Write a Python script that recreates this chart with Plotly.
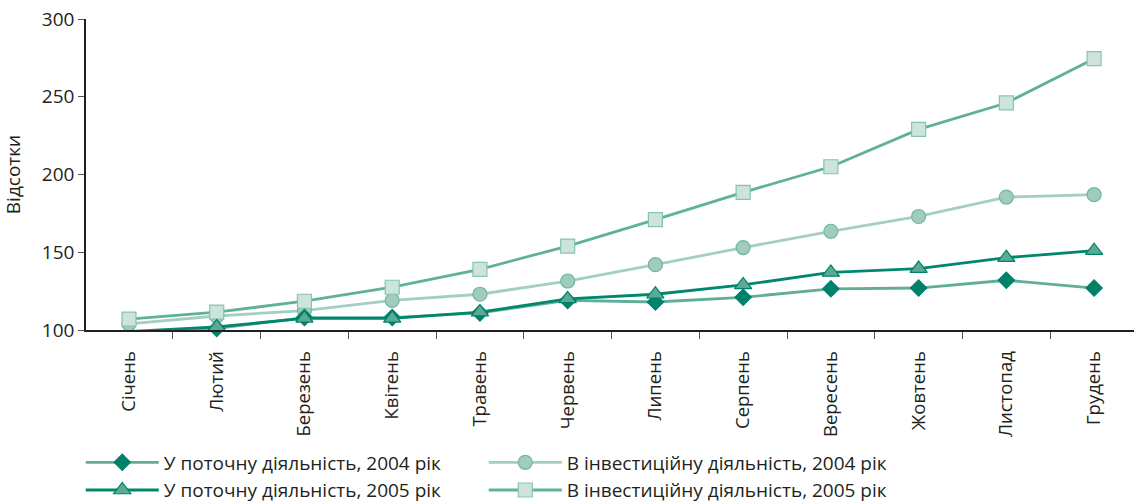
import plotly.graph_objects as go

months = ["Січень", "Лютий", "Березень", "Квітень", "Травень", "Червень",
          "Липень", "Серпень", "Вересень", "Жовтень", "Листопад", "Грудень"]

current_2004 = [98.5, 101, 108, 108, 111, 119, 118, 121, 126.5, 127, 132, 127]
current_2005 = [99, 102, 107.5, 107.5, 111.5, 120, 123, 129, 137, 139.5, 146.5, 151]
invest_2004 = [104, 109, 112.5, 119, 123, 131.5, 142, 153, 163.5, 173, 185.5, 187]
invest_2005 = [107, 111.5, 118.5, 127.5, 139, 154, 171, 188.5, 205, 229, 246, 274.5]

names = ["У поточну діяльність, 2004 рік", "В інвестиційну діяльність, 2004 рік",
         "У поточну діяльність, 2005 рік", "В інвестиційну діяльність, 2005 рік"]

font_family = "Open Sans, Noto Sans, sans-serif"

fig = go.Figure()

# draw order: light ones first, legend order via legendrank
series = [
    (invest_2004, names[1], "#a3cfc2", "circle", 14, "#a0cbbd", "#6db8a3", 2),
    (invest_2005, names[3], "#5fb09c", "square", 14, "#cce4dc", "#86c4b2", 4),
    (current_2004, names[0], "#5fae9a", "diamond", 12.5, "#00826a", "#00826a", 1),
    (current_2005, names[2], "#00876c", "triangle-up", 15, "#5aaa94", "#00826a", 3),
]

for vals, name, lc, sym, sz, fill, edge, rank in series:
    fig.add_trace(go.Scatter(
        x=months, y=vals, name=name, mode="lines+markers",
        line=dict(color=lc, width=2.8),
        marker=dict(symbol=sym, size=sz, color=fill, line=dict(color=edge, width=1.2)),
        legendrank=rank, cliponaxis=False,
    ))

# figure a bit taller than the window so the legend padding has room below
fig.update_layout(
    width=1134, height=530,
    margin=dict(l=86, r=0, t=19, b=200),
    plot_bgcolor="white", paper_bgcolor="white",
    font=dict(family=font_family, size=18, color="#231f20"),
    showlegend=True,
    legend=dict(orientation="h", x=-0.005, y=-0.577, xanchor="left", yanchor="bottom",
                entrywidth=315, entrywidthmode="pixels", traceorder="normal",
                font=dict(size=19), itemwidth=73, tracegroupgap=0),
)

fig.update_xaxes(
    type="category", range=[-0.49, 11.455], automargin=False,
    showline=True, linecolor="#231f20", linewidth=1.5,
    ticks="outside", ticklen=7, tickcolor="#555", tickson="boundaries",
    tickangle=-90, showgrid=False, zeroline=False,
    tickfont=dict(size=18.5), ticklabelstandoff=12,
)
fig.update_yaxes(
    range=[100, 300], dtick=50, automargin=False,
    showline=True, linecolor="#231f20", linewidth=1.5,
    ticks="outside", ticklen=6, tickcolor="#555",
    showgrid=False, zeroline=False, ticklabeloverflow="allow",
    title=dict(text="Відсотки", standoff=23, font=dict(size=19)),
    tickfont=dict(size=19),
)

# drop the browser's default body margin so the figure sits at 0,0
fig.write_html("out.html", config={"displayModeBar": False},
               post_script="document.body.style.margin = '0';")
